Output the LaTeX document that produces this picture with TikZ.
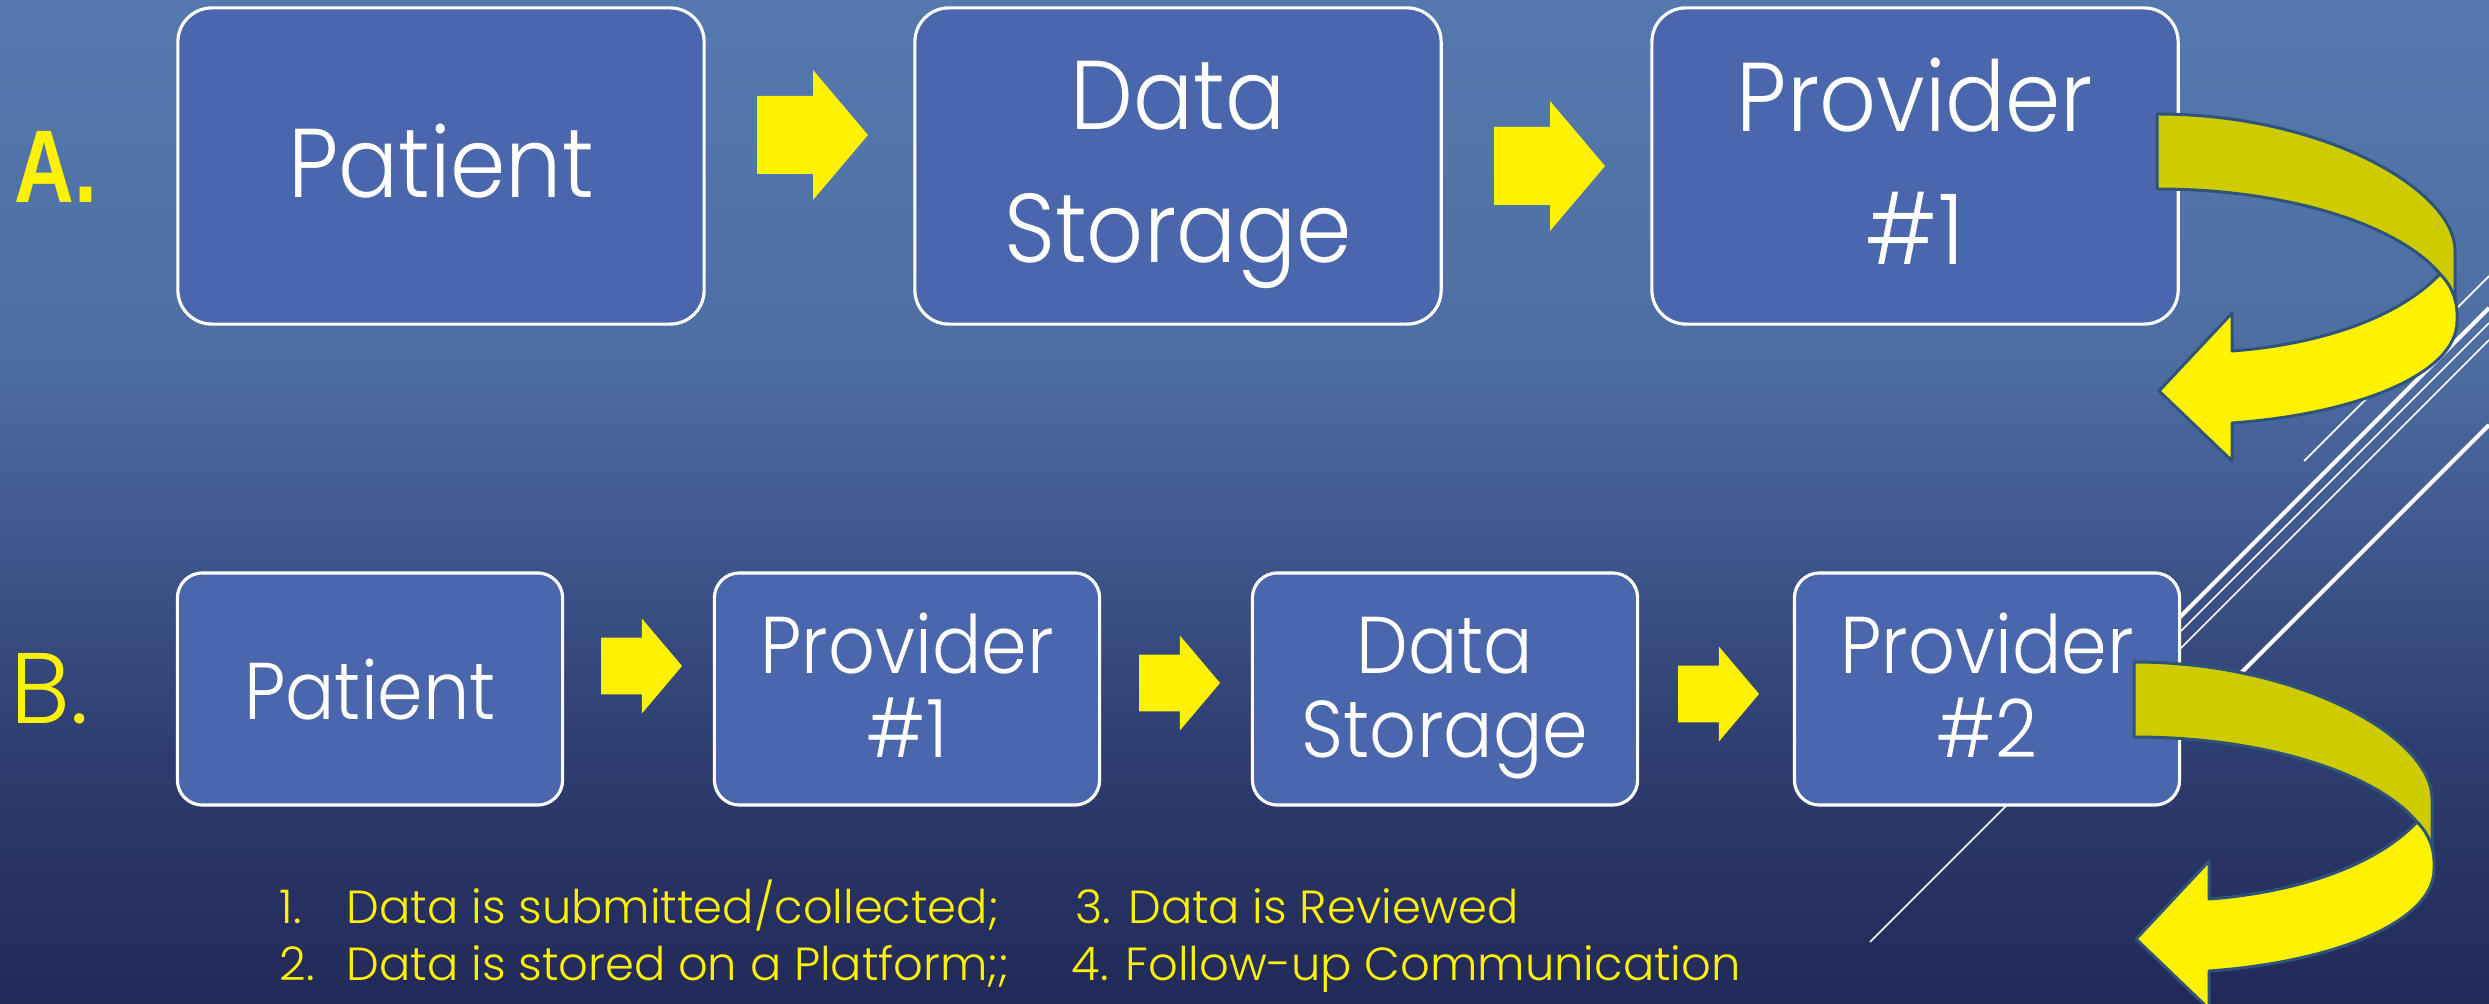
\documentclass[tikz,border=0pt]{standalone}
\usepackage{fontspec}
\IfFontExistsTF{Poppins Light}{%
  \setmainfont{Poppins Light}%
  \newfontfamily\boxfont{Poppins Light}[FakeStretch=0.91]}{%
  \setmainfont{Poppins}%
  \newfontfamily\boxfont{Poppins}[FakeStretch=0.91]}
\newfontfamily\letterfont{Liberation Sans}[FakeStretch=0.8]

\definecolor{boxfill}{RGB}{74,102,172}
\definecolor{arrowedge}{RGB}{47,84,122}
\definecolor{backface}{RGB}{206,204,0}
\definecolor{bgA}{RGB}{34,41,87}
\definecolor{bgB}{RGB}{46,61,112}
\definecolor{bgC}{RGB}{62,86,140}
\definecolor{bgD}{RGB}{78,110,163}
\definecolor{bgE}{RGB}{84,121,174}

% slide background, dark at the bottom and light at the top
\pgfdeclareverticalshading{slidebg}{100bp}{color(0bp)=(bgA); color(25bp)=(bgA);
  color(37.5bp)=(bgB); color(47.5bp)=(bgC); color(57.5bp)=(bgD);
  color(75bp)=(bgE); color(100bp)=(bgE)}

\tikzset{
  stepbox/.style={draw=white, line width=0.9pt, fill=boxfill, inner sep=0pt},
  boxA/.style={stepbox, rounded corners=0.34cm, minimum width=5.26cm, minimum height=3.16cm},
  boxB/.style={stepbox, rounded corners=0.25cm, minimum width=3.85cm, minimum height=2.32cm},
  txtA/.style={text=white, font=\boxfont\fontsize{27.8}{30}\selectfont, anchor=base, inner sep=0pt},
  txtB/.style={text=white, font=\boxfont\fontsize{22.9}{25}\selectfont, anchor=base, inner sep=0pt},
  note/.style={text=yellow, font=\fontsize{13.2}{15}\selectfont, anchor=base west, inner sep=0pt},
  deco/.style={white, line cap=butt},
  % straight block arrow, tail at the origin, pointing right
  pics/blockarrow/.style={code={
    \fill[yellow] (0,-39) -- (56,-39) -- (56,-65) -- (111,0) -- (56,65)
      -- (56,39) -- (0,39) -- cycle;}},
  % ribbon arrow turning back under itself, origin at the top of its tail
  pics/uturn/.style={code={
    \filldraw[fill=backface, draw=arrowedge, line width=0.85pt, line join=round]
      (0,0) .. controls (165,0) and (298,75) .. (298,137) -- (298,187)
      .. controls (293,177) and (288,167) .. (283,160)
      .. controls (243,112) and (133,75) .. (0,75) -- cycle;
    \filldraw[fill=yellow, draw=arrowedge, line width=0.85pt, line join=round]
      (283,160) .. controls (295,172) and (301,187) .. (300,207)
      .. controls (300,260) and (200,300) .. (75,309)
      -- (75,347) -- (2,277) -- (75,199) -- (75,237)
      .. controls (143,232) and (233,212) .. (283,160) -- cycle;}}
}

\begin{document}
\begin{tikzpicture}[x=0.01cm, y=-0.01cm]
\shade[shading=slidebg] (0,0) rectangle (2489,1004);
\useasboundingbox (0,0) rectangle (2489,1004);

% diagonal accent lines at the right
\draw[deco, line width=0.5pt] (2304,461) -- (2489,276);
\draw[deco, line width=1.15pt] (2489,308) -- (2150,647);
\draw[deco, line width=0.45pt] (2489,323) -- (1870,942);
\draw[deco, line width=0.45pt] (2489,340) -- (2160,669);
\draw[deco, line width=1.15pt] (2489,425) -- (2240,674);

% row A
\node[anchor=base west, inner sep=0pt, text=yellow,
      font=\letterfont\bfseries\fontsize{29.4}{31}\selectfont] (labA) at (14,203) {A.};
\node[boxA] (patA) at (441,166) {};
\node[boxA] (datA) at (1178,166) {};
\node[boxA] (proA) at (1915,166) {};
\node[txtA] (patAt) at (patA |- 0,198) {Patient};
\node[txtA] (datAt1) at (datA |- 0,130) {Data};
\node[txtA] (datAt2) at (datA |- 0,263) {Storage};
\node[txtA] (proAt1) at (proA |- 0,132) {Provider};
\node[txtA] (proAt2) at (proA |- 0,265) {\#1};
\pic at (757,135) {blockarrow};
\pic at (1494,166) {blockarrow};

% row B
\node[anchor=base west, inner sep=0pt, text=yellow,
      font=\fontsize{28.5}{30}\selectfont] (labB) at (10,723) {B.};
\node[boxB] (patB) at (370,689) {};
\node[boxB] (proB) at (907,689) {};
\node[boxB] (datB) at (1445,689) {};
\node[boxB] (pr2B) at (1987,689) {};
\node[txtB] (patBt) at (patB |- 0,719) {Patient};
\node[txtB] (proBt1) at (proB |- 0,674) {Provider};
\node[txtB] (proBt2) at (proB |- 0,758) {\#1};
\node[txtB] (datBt1) at (datB |- 0,674) {Data};
\node[txtB] (datBt2) at (datB |- 0,758) {Storage};
\node[txtB] (pr2Bt1) at (pr2B |- 0,674) {Provider};
\node[txtB] (pr2Bt2) at (pr2B |- 0,758) {\#2};
\pic[scale=0.73] at (601,666) {blockarrow};
\pic[scale=0.73] at (1139,683) {blockarrow};
\pic[scale=0.73] at (1678,694) {blockarrow};

% turning arrows leaving the last box of each row
\pic at (2157,114) {uturn};
\pic at (2134,662) {uturn};

% step list
\node[note] (n1) at (279,923) {1.};
\node[note] (s1) at (346,923) {Data is submitted/collected;};
\node[note] (s3) at (1075,923) {3. Data is Reviewed};
\node[note] (n2) at (279,980) {2.};
\node[note] (s2) at (346,980) {Data is stored on a Platform;;};
\node[note] (s4) at (1071,980) {4. Follow-up Communication};
\end{tikzpicture}
\end{document}
